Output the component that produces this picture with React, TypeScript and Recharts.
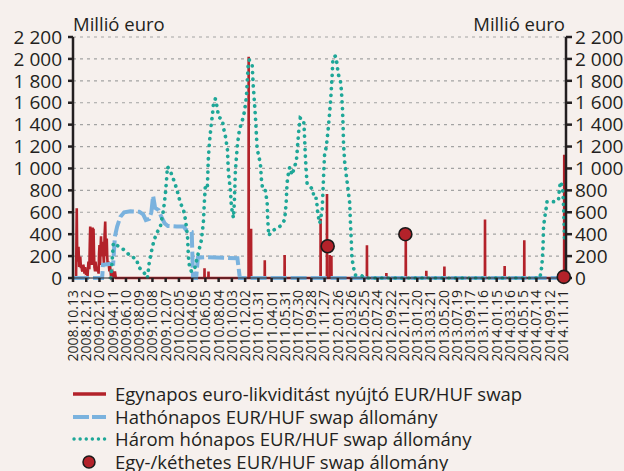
import React from "react";
import { ComposedChart, Line, Scatter, XAxis, YAxis, CartesianGrid } from "recharts";

const dateLabels = [
  "2008.10.13", "2008.12.12", "2009.02.10", "2009.04.11", "2009.06.10", "2009.08.09",
  "2009.10.08", "2009.12.07", "2010.02.05", "2010.04.06", "2010.06.05", "2010.08.04",
  "2010.10.03", "2010.12.02", "2011.01.31", "2011.04.01", "2011.05.31", "2011.07.30",
  "2011.09.28", "2011.11.27", "2012.01.26", "2012.03.26", "2012.05.25", "2012.07.24",
  "2012.09.22", "2012.11.21", "2013.01.20", "2013.03.21", "2013.05.20", "2013.07.19",
  "2013.09.17", "2013.11.16", "2014.01.15", "2014.03.16", "2014.05.15", "2014.07.14",
  "2014.09.12", "2014.11.11",
];
const tickStep = 60; // days between date labels
const lastDay = 2234;
const yTicks = [0, 200, 400, 600, 800, 1000, 1200, 1400, 1600, 1800, 2000, 2200];

// [days since 2008.10.13, million EUR]
const overnightEarly = [
  [0, 0], [14, 0], [17, 636], [19, 200], [21, 150], [25, 286], [28, 100], [31, 180],
  [33, 195], [36, 90], [38, 120], [41, 70], [43, 60], [46, 120], [48, 110], [52, 40],
  [55, 100], [58, 50], [62, 60], [66, 20], [70, 150], [74, 80], [76, 300], [78, 470],
  [80, 350], [82, 200], [84, 380], [86, 120], [89, 460], [91, 300], [93, 450], [95, 250],
  [97, 100], [100, 60], [102, 150], [107, 60], [111, 100], [116, 40], [118, 220],
  [120, 300], [123, 120], [125, 280], [127, 380], [129, 250], [131, 200], [133, 330],
  [135, 300], [140, 130], [143, 380], [146, 515], [148, 300], [150, 200], [153, 360],
  [155, 200], [157, 120], [161, 150], [165, 60], [168, 110], [172, 20], [179, 50],
  [183, 0], [190, 60], [194, 0],
];
const overnightSpikes = [
  [596, 90], [614, 60], [796, 2020], [807, 450], [869, 163], [959, 210], [1122, 540],
  [1151, 766], [1164, 210], [1171, 200], [1332, 300], [1420, 45], [1508, 400],
  [1601, 65], [1683, 105], [1867, 535], [1956, 110], [2045, 345], [2226, 1125],
];
const sixMonthStock = [
  [0, 0], [132, 0], [136, 120], [175, 130], [182, 130], [190, 380], [200, 470],
  [215, 560], [232, 600], [260, 610], [300, 605], [318, 580], [330, 530], [345, 540],
  [355, 600], [363, 750], [372, 640], [388, 620], [400, 560], [415, 500], [430, 475],
  [470, 470], [502, 470], [512, 440], [538, 420], [544, 0], [558, 0], [566, 185],
  [600, 190], [680, 185], [745, 180], [756, 0], [2227, 0],
];
const threeMonthStock = [
  [172, 0], [183, 320], [211, 283], [233, 255], [260, 200], [288, 173], [297, 100],
  [319, 58], [337, 0], [342, 80], [346, 150], [360, 286], [369, 356], [383, 423],
  [396, 470], [410, 620], [419, 775], [424, 900], [428, 1017], [442, 970], [451, 925],
  [469, 820], [487, 683], [501, 620], [510, 530], [519, 377], [523, 195], [528, 103],
  [537, 58], [550, 73], [568, 228], [582, 347], [591, 514], [595, 683], [600, 850],
  [609, 834], [613, 1078], [618, 1233], [627, 1415], [632, 1489], [636, 1580],
  [645, 1635], [654, 1552], [659, 1473], [677, 1443], [682, 1370], [691, 1290],
  [700, 1169], [704, 970], [713, 804], [718, 651], [727, 548], [731, 683], [736, 986],
  [745, 1215], [754, 1352], [768, 1443], [777, 1519], [786, 1656], [790, 1808],
  [795, 1975], [799, 1990], [812, 1945], [816, 1780], [822, 1610], [827, 1460],
  [834, 1200], [840, 1123], [849, 1050], [854, 895], [860, 804], [872, 797], [880, 683],
  [882, 548], [887, 386], [898, 423], [917, 447], [940, 475], [959, 530], [966, 683],
  [970, 867], [975, 940], [982, 1013], [993, 940], [1003, 1013], [1012, 1062],
  [1018, 1215], [1024, 1367], [1030, 1460], [1045, 1443], [1048, 1352], [1053, 1108],
  [1058, 940], [1061, 858], [1076, 831], [1088, 804], [1091, 728], [1103, 728],
  [1109, 591], [1118, 500], [1129, 620], [1133, 804], [1136, 956], [1140, 1123],
  [1148, 1200], [1156, 1352], [1163, 1510], [1169, 1671], [1174, 1838], [1178, 2006],
  [1189, 2027], [1197, 1951], [1201, 1869], [1212, 1793], [1216, 1717], [1221, 1550],
  [1224, 1382], [1226, 1215], [1231, 1062], [1239, 925], [1245, 834], [1254, 682],
  [1257, 514], [1261, 347], [1264, 180], [1272, 88], [1279, 27], [1310, 18], [1330, 0],
  [2115, 0], [2120, 45], [2125, 119], [2130, 286], [2132, 456], [2137, 548], [2143, 620],
  [2148, 697], [2185, 697], [2200, 712], [2205, 834], [2212, 880], [2220, 789],
  [2223, 651], [2226, 470], [2227, 365],
];
const weeklyStock = [
  [1154, 290], [1506, 400], [2224, 10],
];

const seriesNames = [
  "Egynapos euro-likviditást nyújtó EUR/HUF swap",
  "Hathónapos EUR/HUF swap állomány",
  "Három hónapos EUR/HUF swap állomány",
  "Egy-/kéthetes EUR/HUF swap állomány",
];

const RED = "#b3222a";
const BLUE = "#7ab2de";
const TEAL = "#1ea798";
const INK = "#231f20";
const BG = "#f6f0ed";

const toPoints = (rows: number[][]) => rows.map(([d, v]) => ({ d, v }));

const overnightData = [
  ...toPoints(overnightEarly),
  ...overnightSpikes.flatMap(([d, v]) => [
    { d: d - 0.5, v: 0 },
    { d, v },
    { d: d + 0.5, v: 0 },
  ]),
];
const sixMonthData = toPoints(sixMonthStock);
const threeMonthData = toPoints(threeMonthStock);
const weeklyData = toPoints(weeklyStock);

const xTicks = dateLabels.map((_, i) => i * tickStep);

const fmt = (v: number) =>
  v >= 1000 ? `${Math.floor(v / 1000)} ${String(v % 1000).padStart(3, "0")}` : String(v);

const DateTick = ({ x, y, payload }: any) => {
  const ty = y + 6;
  return (
    <text
      x={x}
      y={ty}
      transform={`rotate(-90 ${x} ${ty})`}
      textAnchor="end"
      dy="0.35em"
      fontSize={14}
      fill={INK}
    >
      {dateLabels[Math.round(payload.value / tickStep)]}
    </text>
  );
};

const Dot = ({ cx, cy }: any) => (
  <circle cx={cx} cy={cy} r={6.5} fill={RED} stroke="#1a1a1a" strokeWidth={1.6} />
);

const LegendIcon = ({ i }: { i: number }) => (
  <svg width={36} height={14} style={{ marginRight: 7, flexShrink: 0 }}>
    {i === 0 && <line x1={1} y1={7} x2={34} y2={7} stroke={RED} strokeWidth={3.5} />}
    {i === 1 && (
      <line x1={1} y1={7} x2={34} y2={7} stroke={BLUE} strokeWidth={4} strokeDasharray="16 3" />
    )}
    {i === 2 && (
      <line
        x1={2}
        y1={7}
        x2={34}
        y2={7}
        stroke={TEAL}
        strokeWidth={3.4}
        strokeDasharray="0.1 6"
        strokeLinecap="round"
      />
    )}
    {i === 3 && <circle cx={17} cy={7} r={6} fill={RED} stroke="#1a1a1a" strokeWidth={1.5} />}
  </svg>
);

export default function App() {
  return (
    <div
      style={{
        position: "absolute",
        left: 0,
        top: 0,
        width: 624,
        height: 471,
        overflow: "hidden",
        background: BG,
        fontFamily: "'Open Sans', sans-serif",
        color: INK,
      }}
    >
      <div style={{ position: "absolute", left: 73, top: 11, fontSize: 18.5 }}>Millió euro</div>
      <div style={{ position: "absolute", right: 59, top: 11, fontSize: 18.5 }}>Millió euro</div>
      <ComposedChart width={624} height={471} margin={{ top: 37, right: 0, bottom: 0, left: 0 }}>
        <CartesianGrid
          yAxisId="left"
          vertical={false}
          stroke="#a3a3a3"
          strokeDasharray="3 4"
          strokeWidth={1.2}
        />
        <XAxis
          dataKey="d"
          type="number"
          domain={[0, lastDay]}
          ticks={xTicks}
          interval={0}
          height={193}
          tick={<DateTick />}
          tickSize={4}
          tickLine={{ stroke: INK, strokeWidth: 2.5 }}
          axisLine={{ stroke: INK, strokeWidth: 1 }}
        />
        <YAxis
          yAxisId="left"
          width={73}
          domain={[0, 2200]}
          ticks={yTicks}
          interval={0}
          tickFormatter={fmt}
          tickSize={5}
          tickMargin={6}
          tick={{ fontSize: 19, fill: INK }}
          tickLine={{ stroke: INK, strokeWidth: 2.5 }}
          axisLine={{ stroke: INK, strokeWidth: 2.5 }}
        />
        <YAxis
          yAxisId="right"
          orientation="right"
          width={58}
          domain={[0, 2200]}
          ticks={yTicks}
          interval={0}
          tickFormatter={fmt}
          tickSize={6}
          tickMargin={3}
          tick={{ fontSize: 19, fill: INK }}
          tickLine={{ stroke: INK, strokeWidth: 2.5 }}
          axisLine={{ stroke: INK, strokeWidth: 2.5 }}
        />
        <Line
          yAxisId="right"
          data={weeklyData}
          dataKey="v"
          stroke="none"
          dot={false}
          activeDot={false}
          legendType="none"
          isAnimationActive={false}
        />
        <Line
          yAxisId="left"
          data={overnightData}
          dataKey="v"
          type="linear"
          stroke={RED}
          strokeWidth={2.6}
          dot={false}
          activeDot={false}
          isAnimationActive={false}
        />
        <Line
          yAxisId="left"
          data={sixMonthData}
          dataKey="v"
          type="linear"
          stroke={BLUE}
          strokeWidth={4}
          strokeDasharray="16 4"
          dot={false}
          activeDot={false}
          isAnimationActive={false}
        />
        <Line
          yAxisId="left"
          data={threeMonthData}
          dataKey="v"
          type="linear"
          stroke={TEAL}
          strokeWidth={3.7}
          strokeDasharray="0.1 6.6"
          strokeLinecap="round"
          dot={false}
          activeDot={false}
          isAnimationActive={false}
        />
        <Scatter
          yAxisId="left"
          data={weeklyData}
          dataKey="v"
          shape={<Dot />}
          isAnimationActive={false}
        />
      </ComposedChart>
      <div style={{ position: "absolute", left: 72, top: 383, fontSize: 18.5, lineHeight: "22.5px" }}>
        {seriesNames.map((name, i) => (
          <div key={name} style={{ display: "flex", alignItems: "center", height: 22.5 }}>
            <LegendIcon i={i} />
            <span style={{ whiteSpace: "nowrap" }}>{name}</span>
          </div>
        ))}
      </div>
    </div>
  );
}
